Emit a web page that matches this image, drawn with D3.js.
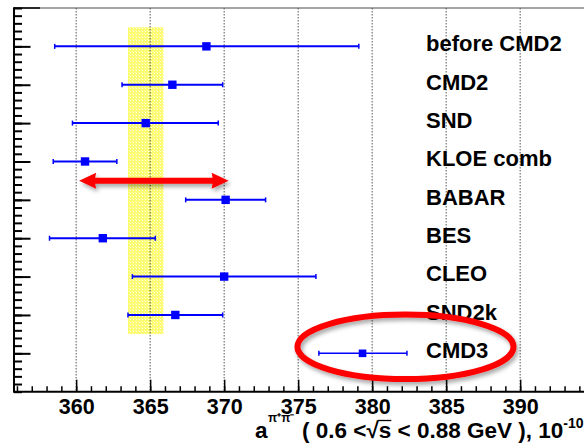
<!DOCTYPE html>
<html><head><meta charset="utf-8">
<script src="https://cdn.jsdelivr.net/npm/d3@7"></script>
<style>
html,body{margin:0;padding:0;background:#fff;}
svg{display:block;}
text{font-family:"Liberation Sans",Arial,Helvetica,sans-serif;font-weight:bold;}
</style></head>
<body>
<svg id="c" width="584" height="443"></svg>
<script>
// ---- data ----
const experiments = ["before CMD2","CMD2","SND","KLOE comb","BABAR","BES","CLEO","SND2k","CMD3"];
const rowPos      = [9,8,7,6,5,4,3,2,1];
const centralVals = [368.8,366.5,364.7,360.6,370.1,361.8,370.0,366.7,379.35];
const errLow      = [10.25,3.4,4.95,2.15,2.7,3.6,6.2,3.2,2.95];
const errHigh     = [10.3,3.4,4.9,2.15,2.7,3.55,6.2,3.2,3.0];
const xTicks      = [360,365,370,375,380,385,390];
const bandX       = [363.5,365.9];
const bandY       = [1.5,9.5];
const arrowX      = [360.2,370.3];
const arrowY      = 5.5;
const ellipseC    = [382.25,1.17];
const ellipseR    = [7.3,0.84];

const svg = d3.select("#c");
const x = d3.scaleLinear().domain([355.8,395]).range([14,14+39.2*14.8]);
const y = d3.scaleLinear().domain([0,10]).range([391.7,8]);

const defs = svg.append("defs");
const pat = defs.append("pattern").attr("id","hatch").attr("patternUnits","userSpaceOnUse")
  .attr("width",3).attr("height",3);
pat.append("rect").attr("width",3).attr("height",3).attr("fill","#fbfb6e");
pat.append("rect").attr("x",1).attr("y",1).attr("width",1).attr("height",1).attr("fill","#fffff0");
pat.append("rect").attr("x",0).attr("y",0).attr("width",1).attr("height",1).attr("fill","#fdfdb8");
const f = defs.append("filter").attr("id","shadow").attr("x","-20%").attr("y","-40%").attr("width","140%").attr("height","180%");
f.append("feDropShadow").attr("dx",2).attr("dy",3).attr("stdDeviation",2).attr("flood-color","#000").attr("flood-opacity",0.35);

// top frame
svg.append("line").attr("x1",x(355.8)).attr("x2",584).attr("y1",y(10)).attr("y2",y(10))
  .attr("stroke","#888").attr("stroke-width",1.5);
svg.append("line").attr("x1",x(355.8)).attr("x2",x(355.8)+26).attr("y1",y(10)).attr("y2",y(10))
  .attr("stroke","#000").attr("stroke-width",1.5);

// yellow band
svg.append("rect").attr("x",x(bandX[0])).attr("width",x(bandX[1])-x(bandX[0]))
  .attr("y",y(bandY[1])).attr("height",y(bandY[0])-y(bandY[1])).attr("fill","url(#hatch)");

// grid
svg.append("g").selectAll("line").data(xTicks).join("line")
  .attr("x1",d=>x(d)).attr("x2",d=>x(d)).attr("y1",y(10)).attr("y2",y(0))
  .attr("stroke","#555").attr("stroke-width",1).attr("stroke-dasharray","1.5,1.5");

// axes
const xAxisG = svg.append("g").attr("transform",`translate(0,${y(0)})`);
xAxisG.call(d3.axisBottom(x).tickValues(d3.range(356,395,1)).tickSize(-5.5).tickFormat(""))
  .call(g=>g.select(".domain").remove());
xAxisG.call(g=>g.selectAll(".tick line").attr("stroke","#000").attr("stroke-width",1.5));
const xMaj = svg.append("g").attr("transform",`translate(0,${y(0)})`);
xMaj.call(d3.axisBottom(x).tickValues(xTicks).tickSize(-12).tickPadding(0).tickFormat(d3.format("d")))
  .call(g=>g.select(".domain").remove());
xMaj.selectAll(".tick line").attr("stroke","#000").attr("stroke-width",1.5);
xMaj.selectAll(".tick text").attr("y",22).attr("dy",null).attr("font-size",21.5).attr("fill","#000")
  .attr("font-family","Liberation Sans, Arial, sans-serif");
svg.append("line").attr("x1",x(355.8)).attr("x2",584).attr("y1",y(0)).attr("y2",y(0))
  .attr("stroke","#000").attr("stroke-width",2);

const yMinor = svg.append("g").attr("transform",`translate(${x(355.8)},0)`);
yMinor.call(d3.axisLeft(y).tickValues(d3.range(0,10.01,0.2)).tickSize(-8).tickFormat(""))
  .call(g=>g.select(".domain").remove());
yMinor.selectAll(".tick line").attr("stroke","#000").attr("stroke-width",2);
const yMajor = svg.append("g").attr("transform",`translate(${x(355.8)},0)`);
yMajor.call(d3.axisLeft(y).tickValues(rowPos).tickSize(-16.5).tickFormat(""))
  .call(g=>g.select(".domain").remove());
yMajor.selectAll(".tick line").attr("stroke","#000").attr("stroke-width",2);
svg.append("line").attr("x1",x(355.8)).attr("x2",x(355.8)).attr("y1",y(10)-0.7).attr("y2",y(0)+1)
  .attr("stroke","#000").attr("stroke-width",2);

// data points
const rows = experiments.map((n,i)=>({n,pos:rowPos[i],v:centralVals[i],lo:centralVals[i]-errLow[i],hi:centralVals[i]+errHigh[i],last:n==="CMD3"}));
const pts = svg.append("g").selectAll("g").data(rows).join("g");
pts.append("line").attr("x1",d=>x(d.lo)).attr("x2",d=>x(d.hi)).attr("y1",d=>y(d.pos)).attr("y2",d=>y(d.pos))
  .attr("stroke","#0000ff").attr("stroke-width",d=>d.last?1.5:2);
pts.append("line").attr("x1",d=>x(d.lo)).attr("x2",d=>x(d.lo)).attr("y1",d=>y(d.pos)-2.5).attr("y2",d=>y(d.pos)+2.5)
  .attr("stroke","#0000ff").attr("stroke-width",1.5);
pts.append("line").attr("x1",d=>x(d.hi)).attr("x2",d=>x(d.hi)).attr("y1",d=>y(d.pos)-2.5).attr("y2",d=>y(d.pos)+2.5)
  .attr("stroke","#0000ff").attr("stroke-width",1.5);
pts.append("rect").attr("x",d=>x(d.v)-(d.last?3.8:4.2)).attr("y",d=>y(d.pos)-(d.last?3.8:4.2))
  .attr("width",d=>d.last?7.6:8.4).attr("height",d=>d.last?7.6:8.4).attr("fill","#0000ff");

// labels
svg.append("g").selectAll("text").data(rows).join("text")
  .attr("x",426).attr("y",d=>y(d.pos)+4.8).attr("font-size",22).attr("fill","#000").text(d=>d.n);

// arrow
{
  const x0=x(arrowX[0]), x1=x(arrowX[1]), yy=y(arrowY), h=17, hw=8, sw=3;
  const p = `M${x0},${yy} L${x0+h},${yy-hw} L${x0+h-1},${yy-sw} L${x1-h+1},${yy-sw} L${x1-h},${yy-hw} L${x1},${yy} L${x1-h},${yy+hw} L${x1-h+1},${yy+sw} L${x0+h-1},${yy+sw} L${x0+h},${yy+hw} Z`;
  svg.append("path").attr("d",p).attr("fill","#ff0000").attr("filter","url(#shadow)");
}

// ellipse
svg.append("ellipse").attr("cx",x(ellipseC[0])).attr("cy",y(ellipseC[1]))
  .attr("rx",x(ellipseC[0]+ellipseR[0])-x(ellipseC[0])).attr("ry",y(0)-y(ellipseR[1]))
  .attr("fill","none").attr("stroke","#ff0000").attr("stroke-width",6).attr("filter","url(#shadow)");

// axis title
{
  const base = 438;
  const fs = 22.5;
  const g = svg.append("g");
  let cx = 255;
  const a = g.append("text").attr("x",cx).attr("y",base).attr("font-size",fs).text("a");
  const aw = a.node().getComputedTextLength();
  g.append("text").attr("x",cx+aw+0.5).attr("y",421.5).attr("font-size",12).attr("font-weight","normal").text("π⁺π⁻");
  g.append("text").attr("x",cx+aw-1.5).attr("y",450).attr("font-size",13).text("μ");
  cx = 302;
  const t1 = g.append("text").attr("x",cx).attr("y",base).attr("font-size",fs).attr("xml:space","preserve").text("( 0.6 <");
  cx += t1.node().getComputedTextLength();
  const sq = g.append("text").attr("x",cx).attr("y",base).attr("font-size",fs).attr("font-weight","normal").text("√");
  cx += sq.node().getComputedTextLength();
  const s = g.append("text").attr("x",cx).attr("y",base).attr("font-size",fs).text("s");
  const sw = s.node().getComputedTextLength();
  g.append("line").attr("x1",cx-1).attr("x2",cx+sw).attr("y1",base-17.5).attr("y2",base-17.5).attr("stroke","#000").attr("stroke-width",1.3);
  cx += sw;
  const t2 = g.append("text").attr("x",cx).attr("y",base).attr("font-size",fs).attr("xml:space","preserve").text(" < 0.88 GeV ), 10");
  cx += t2.node().getComputedTextLength();
  g.append("text").attr("x",cx).attr("y",base-10).attr("font-size",14).text("-10");
}
</script>
</body></html>
